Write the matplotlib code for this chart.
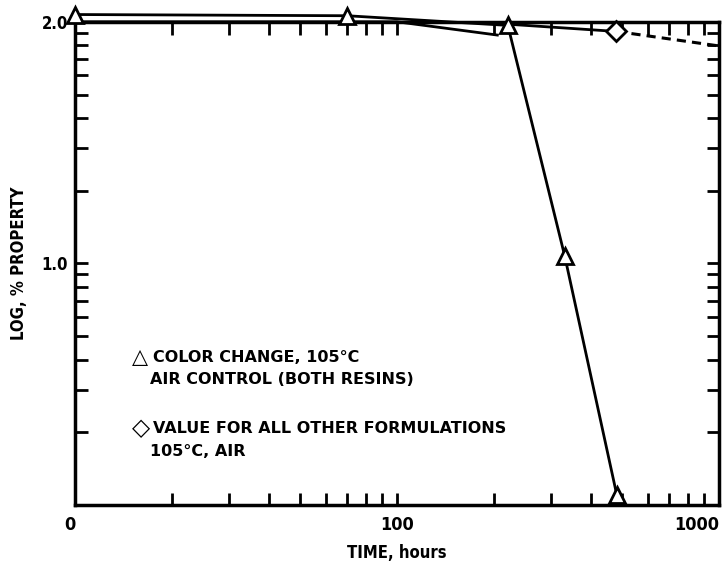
import numpy as np
import matplotlib.pyplot as plt
from matplotlib.ticker import FixedLocator, NullFormatter

# (x in hours, y as log of % property)
tri_hours = [10, 70, 221, 332, 482]
tri_log = [2.03, 2.025, 1.985, 1.03, 0.04]
other_hours = [10, 100, 205]
other_log = [2.0, 2.0, 1.945]
dia_hours = [221, 480]
dia_log = [1.99, 1.96]
ext_hours = [480, 1000]
ext_log = [1.96, 1.90]

x_ticks = [10, 100, 1000]
x_labels = ['0', '100', '1000']
y_ticks = [10, 100]
y_labels = ['1.0', '2.0']

cond = dict(fontfamily='DejaVu Sans', fontstretch='condensed', fontweight='bold')

fig = plt.figure(figsize=(7.24, 5.70), dpi=100)
ax = fig.add_axes([0.1036, 0.114, 0.8894, 0.8478])

pct = lambda v: np.power(10.0, v)

ax.plot(other_hours, pct(other_log), color='black', lw=2, clip_on=False)
ax.plot(dia_hours, pct(dia_log), color='black', lw=2, clip_on=False)
ax.plot(ext_hours, pct(ext_log), color='black', lw=2.2, ls=(0, (3, 2)), clip_on=False)
ax.plot(tri_hours, pct(tri_log), color='black', lw=2, marker='^', ms=11,
        mfc='white', mec='black', mew=2, clip_on=False, zorder=5)
ax.plot(dia_hours[-1:], pct(dia_log[-1:]), ls='none', marker='D', ms=10,
        mfc='white', mec='black', mew=2, clip_on=False, zorder=5)

ax.set_xscale('log')
ax.set_yscale('log')
ax.set_xlim(10, 1000)
ax.set_ylim(1, 100)

ax.xaxis.set_major_locator(FixedLocator(x_ticks))
ax.set_xticklabels(x_labels, fontsize=13, **cond)
ax.xaxis.set_minor_locator(FixedLocator([k * 10 ** n for n in (1, 2) for k in range(2, 10)]))
ax.xaxis.set_minor_formatter(NullFormatter())
ax.get_xticklabels()[-1].set_ha('right')
ax.get_xticklabels()[0].set_ha('right')

ax.yaxis.set_major_locator(FixedLocator(y_ticks))
ax.set_yticklabels(y_labels, fontsize=12, **cond)
ax.yaxis.set_minor_locator(FixedLocator([k * 10 ** n for n in (0, 1) for k in range(2, 10)]))
ax.yaxis.set_minor_formatter(NullFormatter())

ax.tick_params(which='both', direction='in', top=True, right=True, width=2, color='black')
ax.tick_params(which='major', length=9)
ax.tick_params(axis='x', which='major', pad=8)
ax.tick_params(axis='y', which='major', pad=5)
ax.tick_params(which='minor', length=9)
for s in ax.spines.values():
    s.set_linewidth(2.5)

ax.set_xlabel('TIME, hours', fontsize=12, labelpad=7, **cond)
ax.set_ylabel('LOG, % PROPERTY', fontsize=12, labelpad=10, **cond)

leg = dict(transform=ax.transAxes, fontfamily='DejaVu Sans', fontweight='bold', fontsize=11.5, va='center')
ax.text(0.101, 0.306, '\u25b3', transform=ax.transAxes, fontfamily='DejaVu Sans', fontsize=15, va='center', ha='center')
ax.text(0.121, 0.306, 'COLOR CHANGE, 105\u00b0C', **leg)
ax.text(0.117, 0.259, 'AIR CONTROL (BOTH RESINS)', **leg)
ax.text(0.103, 0.159, '\u25c7', transform=ax.transAxes, fontfamily='DejaVu Sans', fontsize=17, va='center', ha='center')
ax.text(0.121, 0.159, 'VALUE FOR ALL OTHER FORMULATIONS', **leg)
ax.text(0.117, 0.110, '105\u00b0C, AIR', **leg)

fig.savefig('out.png', dpi=100)
